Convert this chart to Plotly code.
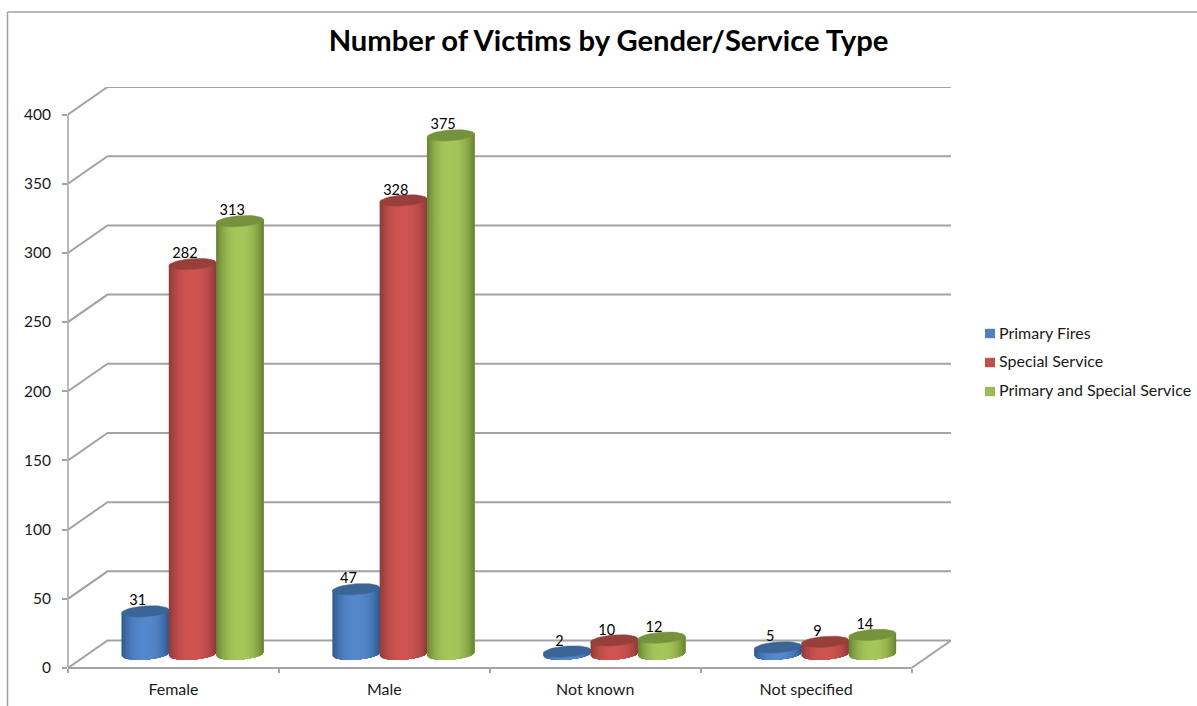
import math
import plotly.graph_objects as go

TITLE = "Number of Victims by Gender/Service Type"
categories = ["Female", "Male", "Not known", "Not specified"]
series_names = ["Primary Fires", "Special Service", "Primary and Special Service"]
primary_fires = [31, 47, 2, 5]
special_service = [282, 328, 10, 9]
primary_and_special = [313, 375, 12, 14]
y_ticks = [0, 50, 100, 150, 200, 250, 300, 350, 400]

series_values = [primary_fires, special_service, primary_and_special]
centre_colors = [(84, 136, 204), (207, 84, 81), (165, 199, 90)]
edge_colors = [(46, 88, 140), (140, 58, 56), (104, 128, 52)]
cap_colors = ["#3A6596", "#983F3C", "#76923C"]
legend_colors = ["#4F81BD", "#C0504D", "#9BBB59"]
legend_hidden = ["rgba(79,129,189,0)", "rgba(192,80,77,0)", "rgba(155,187,89,0)"]
GRID = "#A3A3A3"
FONT = "Lato"

W, H = 1197, 706
L, R, T, B = 68, 911.5, 114.5, 668    # front plane of the 3-D box, in pixels
PX_X = (R - L) / len(categories)      # pixels per category
PX_Y = (B - T) / 400                  # pixels per value unit
DEPTH_X = 39.5 / PX_X
DEPTH_Y = 27.5 / PX_Y
R2, T2 = R + 39.5, T - 27.5           # plot area including the depth of the box
BAR_W = 47.3 / PX_X
RY = 5.4 / PX_Y
TILT = 0.07 * PX_X / PX_Y             # ellipse shear, value units per category unit
N = 32


def mix(a, b, t):
    return "rgb(%d,%d,%d)" % tuple(round(a[i] + (b[i] - a[i]) * t) for i in range(3))


def centre(cat, ser):
    return cat + 0.5 + (DEPTH_X - 1.5 / PX_X) / 2 + (ser - 1) * BAR_W


def arc_y(cx, x, cy, sign):
    u = max(-1, min(1, (x - cx) / (BAR_W / 2)))
    return cy + TILT * (x - cx) + sign * RY * math.sqrt(1 - u * u)


fig = go.Figure()

# back wall, side wall and floor lines
for v in y_ticks:
    fig.add_trace(go.Scatter(
        x=[0, DEPTH_X, 4 + DEPTH_X], y=[v, v + DEPTH_Y, v + DEPTH_Y], mode="lines",
        line=dict(color=GRID, width=2), cliponaxis=False, showlegend=False, hoverinfo="skip"))
fig.add_trace(go.Scatter(
    x=[4, 4 + DEPTH_X], y=[0, DEPTH_Y], mode="lines",
    line=dict(color=GRID, width=2), cliponaxis=False, showlegend=False, hoverinfo="skip"))

# cylinders: every strip reaches the right edge, later strips paint over it
base = DEPTH_Y / 2
for s, values in enumerate(series_values):
    for k in range(N):
        xs, ys = [], []
        t = abs((k + 0.5) / N * 2 - 1)
        for c, v in enumerate(values):
            cx = centre(c, s)
            left = cx - BAR_W / 2
            grid = [left + BAR_W * j / N for j in range(k, N + 1)]
            top = base + v
            xs += grid + grid[::-1] + [grid[0], None]
            ys += ([arc_y(cx, x, base, -1) for x in grid]
                   + [arc_y(cx, x, top, 0) for x in grid[::-1]]
                   + [arc_y(cx, grid[0], base, -1), None])
        col = mix(centre_colors[s], edge_colors[s], t ** 2.4)
        fig.add_trace(go.Scatter(
            x=xs, y=ys, mode="lines", fill="toself", fillcolor=col,
            line=dict(width=0), cliponaxis=False, showlegend=False, hoverinfo="skip"))
    xs, ys = [], []
    for c, v in enumerate(values):
        cx = centre(c, s)
        top = base + v
        for j in range(41):
            a = 2 * math.pi * j / 40
            x = cx + BAR_W / 2 * math.cos(a)
            xs.append(x)
            ys.append(top + TILT * (x - cx) + RY * math.sin(a))
        xs.append(None)
        ys.append(None)
    fig.add_trace(go.Scatter(
        x=xs, y=ys, mode="lines", fill="toself", fillcolor=cap_colors[s],
        line=dict(color=cap_colors[s], width=0.5), cliponaxis=False, showlegend=False, hoverinfo="skip"))

# data labels
for s, values in enumerate(series_values):
    fig.add_trace(go.Scatter(
        x=[centre(c, s) - 7.5 / PX_X for c in range(len(values))],
        y=[base + v + 9.5 / PX_Y for v in values],
        text=[str(v) for v in values], mode="text", textposition="middle center",
        textfont=dict(family=FONT, size=14.5, color="#000000"),
        cliponaxis=False, showlegend=False, hoverinfo="skip"))

# legend entries (their swatches are drawn closer to the text as shapes below)
for s, name in enumerate(series_names):
    fig.add_trace(go.Scatter(
        x=[None], y=[None], mode="markers", name=name, legendgroup=name,
        marker=dict(symbol="square", size=10, color=legend_hidden[s])))

px_x = lambda p: (p - L) / (R2 - L)
px_y = lambda p: (B - p) / (B - T2)

swatches = [
    dict(type="rect", xref="paper", yref="paper", x0=px_x(985), x1=px_x(995),
         y0=px_y(yc - 4.7), y1=px_y(yc + 4.7), fillcolor=col, line=dict(width=0))
    for yc, col in zip([333.5, 362.5, 391.5], legend_colors)
]

fig.update_layout(
    width=W, height=H, margin=dict(l=L, r=W - R2, t=T2, b=H - B, pad=0, autoexpand=False),
    autosize=False, paper_bgcolor="white", plot_bgcolor="rgba(0,0,0,0)",
    font=dict(family=FONT, size=15.5, color="#1A1A1A"),
    title=dict(text="<b>%s</b>" % TITLE, x=608.5 / W, xanchor="center", xref="container",
               y=1 - 41 / H, yanchor="middle", yref="container",
               font=dict(family=FONT, size=29.2, color="#000000")),
    xaxis=dict(range=[0, 4 + DEPTH_X], tickmode="array", tickvals=[i + 0.5 for i in range(4)],
               ticktext=categories, tickfont=dict(family=FONT, size=16, color="#1A1A1A"),
               ticks="", showgrid=False, zeroline=False, showline=False, automargin=False,
               ticklabelstandoff=10,
               minor=dict(tickmode="array", tickvals=[0, 1, 2, 3, 4], ticks="outside", ticklen=4,
                          tickcolor=GRID, tickwidth=1.5, showgrid=False)),
    yaxis=dict(range=[0, 400 + DEPTH_Y], tickmode="array", tickvals=y_ticks, ticks="outside", ticklen=5,
               tickcolor=GRID, tickwidth=1.5, showgrid=False, zeroline=False, showline=False,
               automargin=False, ticklabelstandoff=8),
    legend=dict(x=px_x(970), xanchor="left", y=px_y(361.5), yanchor="middle", indentation=-11,
                tracegroupgap=5, bgcolor="rgba(0,0,0,0)", font=dict(family=FONT, size=16, color="#1A1A1A")),
    shapes=[
        dict(type="line", xref="paper", yref="paper", x0=0, x1=px_x(R), y0=0, y1=0,
             line=dict(color=GRID, width=2)),
        dict(type="line", xref="paper", yref="paper", x0=0, x1=0, y0=0, y1=px_y(T),
             line=dict(color=GRID, width=1.5)),
        dict(type="line", xref="paper", yref="paper", x0=px_x(7.5), x1=px_x(W), y0=px_y(12), y1=px_y(12),
             line=dict(color="#A0A0A0", width=1.5)),
        dict(type="line", xref="paper", yref="paper", x0=px_x(7.5), x1=px_x(7.5), y0=px_y(12), y1=px_y(H),
             line=dict(color="#A0A0A0", width=1.5)),
    ] + swatches,
)

fig.write_html("out.html", config={"displayModeBar": False},
               post_script="document.body.style.margin='0';")
